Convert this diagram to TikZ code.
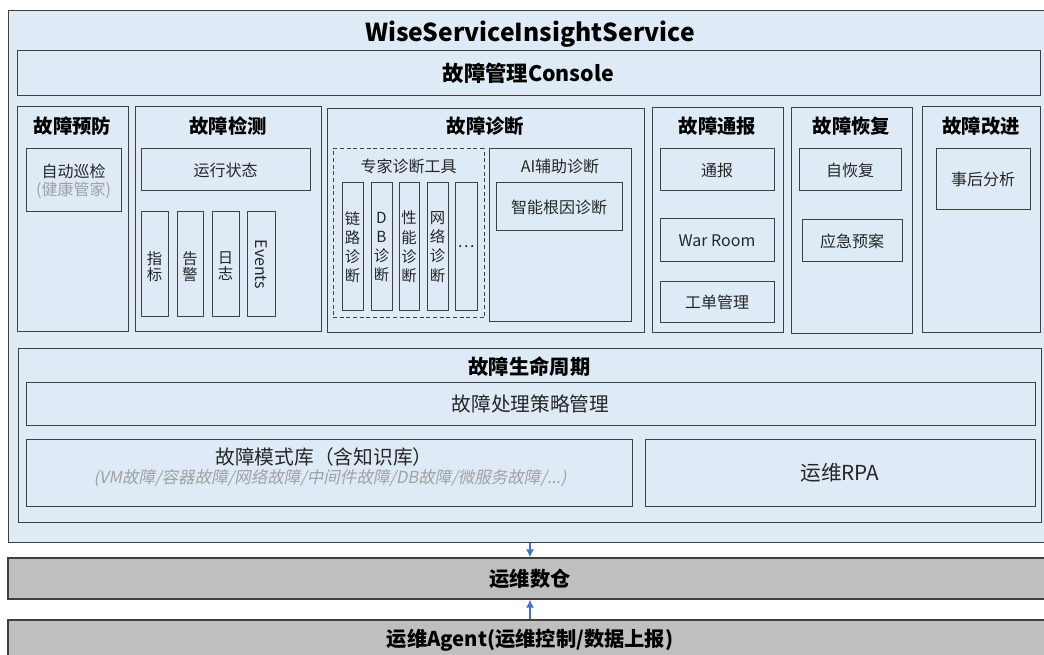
\documentclass[tikz,border=0pt]{standalone}
\usepackage{fontspec}
\setmainfont{Noto Sans CJK SC}
\newfontfamily\slantfont{Noto Sans CJK SC}[FakeSlant=0.2]
\usetikzlibrary{fit,arrows.meta}
\definecolor{bg}{HTML}{DEEBF7}
\definecolor{lc}{HTML}{404040}
\definecolor{gfill}{HTML}{BFBFBF}
\definecolor{gtext}{HTML}{A0A0A0}
\definecolor{arrc}{HTML}{4472C4}
\definecolor{tc}{HTML}{262626}
\begin{document}
\begin{tikzpicture}[x=0.75pt,y=-0.75pt,
 box/.style={draw=lc,fill=bg,line width=0.75pt,inner sep=0pt},
 dbox/.style={box,dash pattern=on 3pt off 2pt},
 gbox/.style={draw=lc,fill=gfill,line width=1.1pt,inner sep=0pt},
 ttl/.style={font=\fontsize{18.5}{22}\selectfont\bfseries},
 hd/.style={font=\fontsize{14.5}{17}\selectfont\bfseries},
 hdb/.style={font=\fontsize{15.2}{18}\selectfont\bfseries},
 txt/.style={font=\fontsize{12}{14}\selectfont, text=tc},
 vtxt/.style={font=\fontsize{11.5}{12}\selectfont, align=center, text=tc},
 vtxtb/.style={font=\fontsize{11.5}{14.4}\selectfont, align=center, text=tc},
 big/.style={font=\fontsize{14.8}{17}\selectfont, text=tc},
 arr/.style={draw=arrc,line width=0.8pt,-{Latex[length=6pt,width=6pt]}}
]
\useasboundingbox (0,0) rectangle (1044,655);
\clip (0,0) rectangle (1044,655);

% outer frame
\node[box, fit={(8,11)(1052,542)}] (outer) {};
\node[ttl] (title) at (530,34) {WiseServiceInsightService};
\node[box, fit={(17,51)(1040,96)}] (console) {};
\node[font=\fontsize{16}{19}\selectfont\bfseries] (consolet) at (console.center) {故障管理Console};

% 故障预防
\node[box, fit={(17,107)(128,332)}] (prev) {};
\node[hd] (prevt) at (72.5,126) {故障预防};
\node[box, fit={(26,149)(121,212)}] (xunjian) {};
\node[txt] (xunjiant) at (73.5,171) {自动巡检};
\node[txt, text=gtext] (xunjians) at (73.5,190) {(健康管家)};

% 故障检测
\node[box, fit={(135,107)(321,332)}] (det) {};
\node[hd] (dett) at (228,126) {故障检测};
\node[box, fit={(141,149)(310,191)}] (state) {};
\node[txt] (statet) at (state.center) {运行状态};
\node[box, fit={(141,212)(168,317)}] (zhibiao) {};
\node[vtxt] (zhibiaot) at ([yshift=-1.5pt]zhibiao.center) {指\\标};
\node[box, fit={(177,212)(203,317)}] (gaojing) {};
\node[vtxt] (gaojingt) at ([yshift=-1.5pt]gaojing.center) {告\\警};
\node[box, fit={(212,212)(239,317)}] (rizhi) {};
\node[vtxt] (rizhit) at ([yshift=-1.5pt]rizhi.center) {日\\志};
\node[box, fit={(247,212)(275,317)}] (events) {};
\node[txt, rotate=-90] (eventst) at (events.center) {Events};

% 故障诊断
\node[box, fit={(327,109)(644,333)}] (diag) {};
\node[hd] (diagt) at (485.5,126) {故障诊断};
\node[dbox, fit={(333,149)(484,318)}] (expert) {};
\node[txt] (expertt) at (408.5,166) {专家诊断工具};
\node[box, fit={(342,183)(363,311)}] (link) {};
\node[vtxtb] (linkt) at (link.center) {链\\路\\诊\\断};
\node[box, fit={(371,183)(392,311)}] (dbd) {};
\node[vtxtb] (dbdt) at (dbd.center) {D\\B\\诊\\断};
\node[box, fit={(399,183)(419,311)}] (perf) {};
\node[vtxtb] (perft) at (perf.center) {性\\能\\诊\\断};
\node[box, fit={(427,183)(448,311)}] (net) {};
\node[vtxtb] (nett) at (net.center) {网\\络\\诊\\断};
\node[box, fit={(455,183)(477,311)}] (more) {};
\node[txt] (moret) at (more.center) {…};
\node[box, fit={(489,149)(631,322)}] (ai) {};
\node[txt] (ait) at (560,166) {AI辅助诊断};
\node[box, fit={(496,183)(622,231)}] (root) {};
\node[txt] (roott) at (root.center) {智能根因诊断};

% 故障通报
\node[box, fit={(652,108)(783,333)}] (notify) {};
\node[hd] (notifyt) at (717.5,126) {故障通报};
\node[box, fit={(660,149)(774,191)}] (tongbao) {};
\node[txt] (tongbaot) at (tongbao.center) {通报};
\node[box, fit={(660,219)(774,262)}] (warroom) {};
\node[txt] (warroomt) at (warroom.center) {War Room};
\node[box, fit={(660,282)(774,323)}] (ticket) {};
\node[txt] (tickett) at (ticket.center) {工单管理};

% 故障恢复
\node[box, fit={(791,108)(912,334)}] (recover) {};
\node[hd] (recovert) at (851.5,126) {故障恢复};
\node[box, fit={(799,149)(901,191)}] (selfrec) {};
\node[txt] (selfrect) at (selfrec.center) {自恢复};
\node[box, fit={(802,220)(902,262)}] (plan) {};
\node[txt] (plant) at (plan.center) {应急预案};

% 故障改进
\node[box, fit={(922,107)(1040,333)}] (improve) {};
\node[hd] (improvet) at (981,126) {故障改进};
\node[box, fit={(936,149)(1030,210)}] (post) {};
\node[txt] (postt) at (post.center) {事后分析};

% 故障生命周期
\node[box, fit={(18,349)(1041,522)}] (life) {};
\node[hdb] (lifet) at (529.5,367) {故障生命周期};
\node[box, fit={(26,382)(1035,425)}] (strategy) {};
\node[big] (strategyt) at (strategy.center) {故障处理策略管理};
\node[box, fit={(26,439)(632,506)}] (pattern) {};
\node[big] (patternt) at (324,457) {故障模式库（含知识库）};
\node[txt, text=gtext, font=\fontsize{12.4}{14}\slantfont] (patterns) at (330,478) {(VM故障/容器故障/网络故障/中间件故障/DB故障/微服务故障/...)};
\node[box, fit={(645,439)(1035,506)}] (rpa) {};
\node[big, font=\fontsize{15.5}{18}\selectfont] (rpat) at (rpa.center) {运维RPA};

% bottom layers
\node[gbox, fit={(8,558)(1052,599)}] (cang) {};
\node[hdb] (cangt) at (cang.center) {运维数仓};
\node[gbox, fit={(8,620)(1052,660)}] (agent) {};
\node[hdb] (agentt) at (530,640) {运维Agent(运维控制/数据上报)};

\draw[arr] (outer.south) -- (cang.north);
\draw[arr] (agent.north) -- (cang.south);
\end{tikzpicture}
\end{document}
